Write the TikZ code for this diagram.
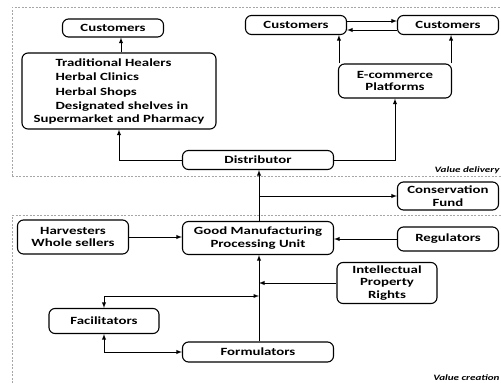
\documentclass[tikz,border=0pt]{standalone}
\usepackage{fontspec}
\setmainfont[FakeStretch=1.35]{Carlito}

\tikzset{
	box/.style={draw, rounded corners=6pt, line width=1.1pt, inner sep=0pt, align=center,
		font=\fontsize{11}{12.5}\selectfont\bfseries},
	zone/.style={draw=gray!70, line width=0.6pt, dash pattern=on 2pt off 1.5pt},
	zonelabel/.style={anchor=east, inner sep=0pt, font=\fontsize{8.2}{9}\selectfont\bfseries\itshape}
}

\begin{document}
\begin{tikzpicture}[x=1pt, y=-1pt, >=latex, line width=0.9pt]

	\useasboundingbox (0,0) rectangle (501,383);
	\clip (0,0) rectangle (501,383);

	\draw[zone] (12,176) -- (12,7) -- (510,7);
	\draw[zone] (12,176) -- (510,176);
	\draw[zone] (12,390) -- (12,215) -- (510,215);
	\node[zonelabel] (lbl1) at (500,170) {Value delivery};
	\node[zonelabel] (lbl2) at (500,378) {Value creation};

	\node[box, minimum width=101pt, minimum height=18pt] (cust1) at (113,28) {Customers};
	\node[box, minimum width=194pt, minimum height=76pt, align=left] (heal) at (119,91)
		{\hspace*{22pt}Traditional Healers\\[2pt]
		 \hspace*{22pt}Herbal Clinics\\[2pt]
		 \hspace*{22pt}Herbal Shops\\[2pt]
		 \hspace*{22pt}Designated shelves in\\
		 Supermarket and Pharmacy};
	\node[box, minimum width=101pt, minimum height=19pt] (cust2) at (296,25) {Customers};
	\node[box, minimum width=101pt, minimum height=19pt] (cust3) at (448,25) {Customers};
	\node[box, minimum width=113pt, minimum height=34pt] (ecom) at (395,81) {E-commerce\\Platforms};
	\node[box, minimum width=151pt, minimum height=19pt] (dist) at (258,160) {Distributor};
	\node[box, minimum width=101pt, minimum height=28pt] (cons) at (448,196) {Conservation\\Fund};

	\node[box, minimum width=111pt, minimum height=34pt] (harv) at (73,237) {Harvesters\\Whole sellers};
	\node[box, minimum width=151pt, minimum height=33pt] (gmp) at (258,238) {Good Manufacturing\\Processing Unit};
	\node[box, minimum width=101pt, minimum height=24pt] (reg) at (448,239) {Regulators};
	\node[box, minimum width=100pt, minimum height=41pt] (ipr) at (387,283) {Intellectual\\Property\\Rights};
	\node[box, minimum width=110pt, minimum height=25pt] (fac) at (104,321) {Facilitators};
	\node[box, minimum width=151pt, minimum height=20pt] (form) at (258,352) {Formulators};

	\coordinate (j1) at (259,296);

	\draw[->] ([xshift=2pt]heal.north) -- ([xshift=2pt]heal.north |- cust1.south);
	\draw[->] (dist.west) -| (heal.south);
	\draw[->] (dist.east) -| (ecom.south);
	\draw[->] ([xshift=1pt]ecom.north west) -- ([xshift=1pt]ecom.north west |- cust2.south);
	\draw[->] ([xshift=-1pt]ecom.north east) -- ([xshift=-1pt]ecom.north east |- cust3.south);
	\draw[->] ([yshift=4pt]cust2.east) -- ([yshift=4pt]cust3.west);
	\draw[->] ([yshift=-5pt]cust3.west) -- ([yshift=-5pt]cust2.east);

	\draw[->] ([xshift=1pt]gmp.north) -- ([xshift=1pt]dist.south);
	\draw[->] ([xshift=1pt]gmp.north |- cons.west) -- (cons.west);
	\draw[->] (harv.east) -- (harv.east -| gmp.west);
	\draw[->] (reg.west) -- (reg.west -| gmp.east);
	\draw[->] ([xshift=1pt]form.north) -- ([xshift=1pt]gmp.south);
	\draw[->] (ipr.west) -- ([xshift=1pt]form.north |- ipr.west);
	\draw[<->] (j1) -| (fac.north);
	\draw[<->] (fac.south) |- (form.west);

\end{tikzpicture}
\end{document}
